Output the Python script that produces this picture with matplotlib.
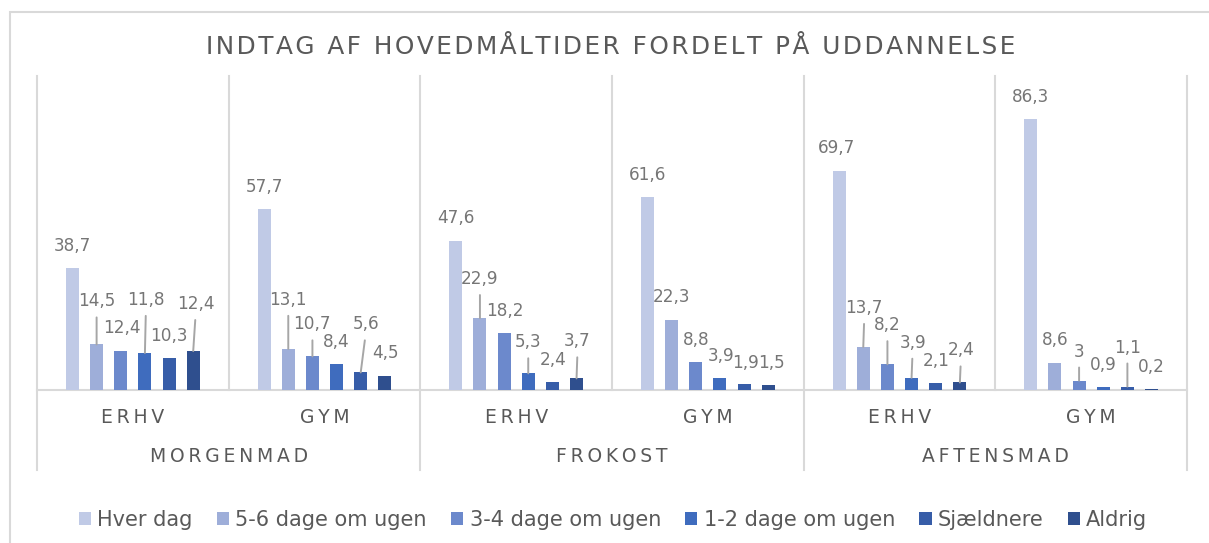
import numpy as np
import matplotlib
matplotlib.use("Agg")
import matplotlib.pyplot as plt
from matplotlib.patches import Rectangle
from matplotlib.transforms import blended_transform_factory

plt.rcParams['font.family'] = ['DejaVu Sans']

# data
meals = ["MORGENMAD", "FROKOST", "AFTENSMAD"]
schools = ["ERHV", "GYM"]
series_names = ["Hver dag", "5-6 dage om ugen", "3-4 dage om ugen",
                "1-2 dage om ugen", "Sjældnere", "Aldrig"]
hver_dag = [38.7, 57.7, 47.6, 61.6, 69.7, 86.3]
dage_5_6 = [14.5, 13.1, 22.9, 22.3, 13.7, 8.6]
dage_3_4 = [12.4, 10.7, 18.2, 8.8, 8.2, 3.0]
dage_1_2 = [11.8, 8.4, 5.3, 3.9, 3.9, 0.9]
sjaeldnere = [10.3, 5.6, 2.4, 1.9, 2.1, 1.1]
aldrig = [12.4, 4.5, 3.7, 1.5, 2.4, 0.2]
series = [hver_dag, dage_5_6, dage_3_4, dage_1_2, sjaeldnere, aldrig]

colors = ["#C0CAE6", "#9EAED9", "#6C89CC", "#3F6CBE", "#375DA8", "#2F4F8E"]

# label placement (pixels above bar top / sideways shift), as Excel moved them
label_dy = [[22, 22, 23, 22, 23, 22],
            [43, 49, 39, 23, 39, 23],
            [23, 32, 22, 22, 39, 29],
            [53, 22, 31, 22, 35, 22],
            [22, 48, 22, 21, 22, 39],
            [47, 23, 37, 22, 32, 22]]
label_dx = [[0, 0, 0, 0, -3, 0],
            [0, 0, 0, 0, 1, 0],
            [1, 0, 1, 0, 0, 0],
            [1, 0, 0, 1.5, 1, 0],
            [0, 5, 1, 1, 0, 0],
            [2.5, 1, 1, 3, 1, 0]]

W, H = 1209, 543
fig = plt.figure(figsize=(W / 100, H / 100), dpi=100)
ax = fig.add_axes([37 / W, 1 - 390 / H, 1150 / W, 314 / H])

x = np.arange(6)
step = 0.126
width = 0.068
for i, vals in enumerate(series):
    xs = x + (i - 2.5) * step
    ax.bar(xs, vals, width, color=colors[i], label=series_names[i], zorder=3)
    for j, v in enumerate(vals):
        txt = f"{v:g}".replace(".", ",")
        dy = label_dy[i][j]
        kw = {}
        if dy >= 28:
            kw["arrowprops"] = dict(arrowstyle="-", color="#A6A6A6", lw=1.4,
                                    shrinkA=3, shrinkB=0, relpos=(0.5, 0))
        ax.annotate(txt, xy=(xs[j], v), xytext=(label_dx[i][j], dy),
                    textcoords="offset pixels", ha="center", va="center",
                    fontsize=12.2, color="#767676", zorder=4, **kw)

ax.set_xlim(-0.5, 5.5)
ax.set_ylim(0, 100)
ax.set_xticks([])
ax.set_yticks([])
for s in ["top", "right", "left"]:
    ax.spines[s].set_visible(False)
ax.spines["bottom"].set_color("#D9D9D9")
ax.spines["bottom"].set_linewidth(1.5)

# category separators
trans = blended_transform_factory(ax.transData, ax.transAxes)
for b in [0.5, 2.5, 4.5]:
    ax.plot([b, b], [0, 1], transform=trans, color="#D9D9D9", lw=1.5,
            clip_on=False, zorder=1)
for b in [-0.5, 1.5, 3.5, 5.5]:
    ax.plot([b, b], [-0.255, 1], transform=trans, color="#D9D9D9", lw=1.5,
            clip_on=False, zorder=1)

def spaced(s, sep="\u2009"):
    return sep.join(s)

for k in range(6):
    ax.text(k, -0.086, spaced(schools[k % 2]), transform=trans, ha="center",
            va="center", fontsize=13.5, color="#595959")
for m, meal in enumerate(meals):
    ax.text(2 * m + 0.5, -0.213, spaced(meal), transform=trans, ha="center",
            va="center", fontsize=13.5, color="#595959")

fig.text(611 / W, 1 - 47 / H,
         spaced("INDTAG AF HOVEDMÅLTIDER FORDELT PÅ UDDANNELSE", "\u200a"),
         ha="center", va="center", fontsize=17.8, color="#595959")

fig.legend(loc="center", bbox_to_anchor=(613 / W, 1 - 520 / H), ncol=6,
           frameon=False, fontsize=15, labelcolor="#595959",
           handlelength=0.6, handleheight=0.6, handletextpad=0.3,
           columnspacing=1.15)

# outer chart border (right and bottom edges lie outside the picture)
fig.patches.append(Rectangle((10 / W, -0.1), 1.5, 1.078,
                             transform=fig.transFigure, fill=False,
                             edgecolor="#D9D9D9", lw=1.5, zorder=0))

fig.savefig("out.png", dpi=100)
